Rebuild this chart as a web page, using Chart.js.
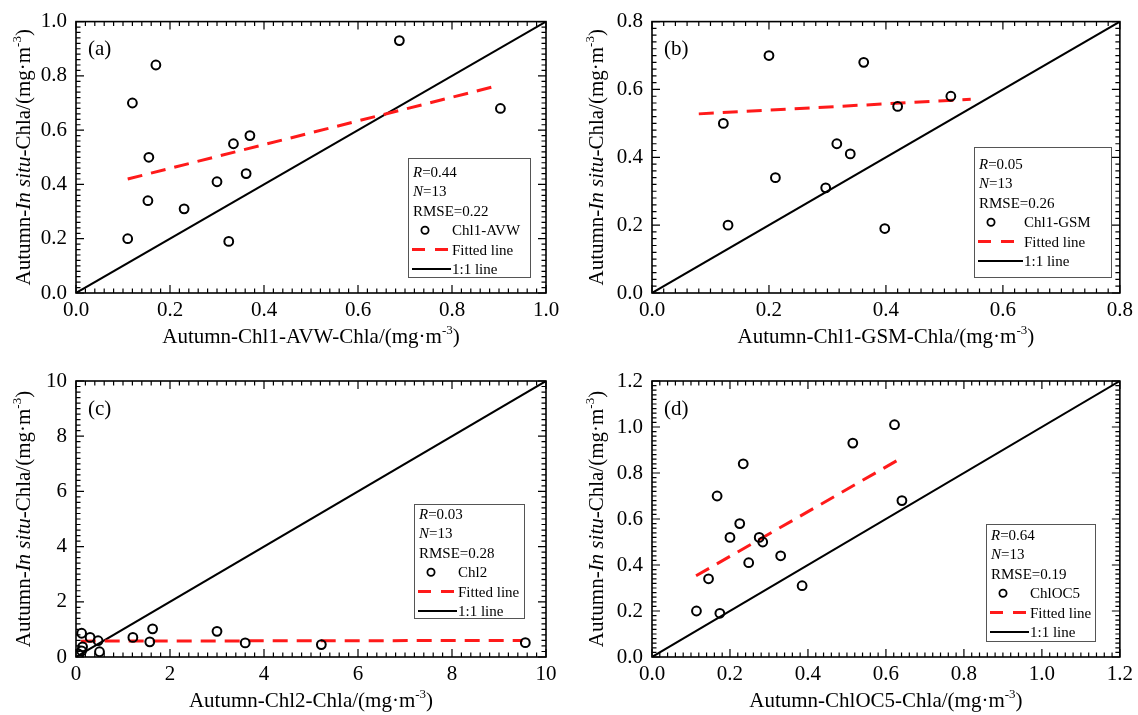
<!DOCTYPE html>
<html><head><meta charset="utf-8">
<script src="https://cdn.jsdelivr.net/npm/chart.js@4.4.1/dist/chart.umd.min.js"></script>
<style>
html,body{margin:0;padding:0;background:#fff;width:1138px;height:715px;overflow:hidden}
canvas{position:absolute}
</style></head><body>
<canvas id="ca" style="left:0;top:0" width="569" height="362"></canvas>
<canvas id="cb" style="left:569px;top:0" width="569" height="362"></canvas>
<canvas id="cc" style="left:0;top:340px" width="569" height="375"></canvas>
<canvas id="cd" style="left:569px;top:340px" width="569" height="375"></canvas>
<script>
const FONT = "'Liberation Serif', 'Times New Roman', serif";

// ---- Panel (a) Chl1-AVW ----
const aX = [0.11, 0.12, 0.17, 0.155, 0.153, 0.23, 0.30, 0.325, 0.335, 0.37, 0.362, 0.688, 0.903];
const aY = [0.20, 0.70, 0.84, 0.50, 0.34, 0.31, 0.41, 0.19, 0.55, 0.58, 0.44, 0.93, 0.68];
const aFitX = [0.11, 0.90];
const aFitY = [0.42, 0.765];
const aTicks = [0, 0.2, 0.4, 0.6, 0.8, 1.0];

// ---- Panel (b) Chl1-GSM ----
const bX = [0.20, 0.362, 0.122, 0.511, 0.42, 0.316, 0.339, 0.211, 0.297, 0.13, 0.398];
const bY = [0.70, 0.68, 0.50, 0.58, 0.55, 0.44, 0.41, 0.34, 0.31, 0.20, 0.19];
const bFitX = [0.08, 0.545];
const bFitY = [0.528, 0.571];
const bTicks = [0, 0.2, 0.4, 0.6, 0.8];

// ---- Panel (c) Chl2 ----
const cX = [0.06, 0.12, 0.30, 0.47, 0.14, 0.12, 0.50, 1.21, 1.57, 1.63, 3.0, 3.6, 5.22, 9.56];
const cY = [0.10, 0.86, 0.71, 0.59, 0.37, 0.22, 0.19, 0.71, 0.55, 1.02, 0.93, 0.51, 0.45, 0.52];
const cFitX = [0.1, 9.5];
const cFitY = [0.575, 0.60];
const cTicks = [0, 2, 4, 6, 8, 10];

// ---- Panel (d) ChlOC5 ----
const dX = [0.622, 0.515, 0.234, 0.167, 0.641, 0.225, 0.200, 0.275, 0.284, 0.330, 0.248, 0.145, 0.385, 0.114, 0.174];
const dY = [1.01, 0.93, 0.84, 0.70, 0.68, 0.58, 0.52, 0.52, 0.50, 0.44, 0.41, 0.34, 0.31, 0.20, 0.19];
const dFitX = [0.113, 0.646];
const dFitY = [0.353, 0.871];
const dTicks = [0, 0.2, 0.4, 0.6, 0.8, 1.0, 1.2];

// ---- Texts ----
const panelLabels = ['(a)', '(b)', '(c)', '(d)'];
const seriesNames = ['Chl1-AVW', 'Chl1-GSM', 'Chl2', 'ChlOC5'];
const rVals = ['0.44', '0.05', '0.03', '0.64'];
const nVals = ['13', '13', '13', '13'];
const rmseVals = ['0.22', '0.26', '0.28', '0.19'];
const tickDecimals = [1, 1, 0, 1];

function pts(xs, ys) { return xs.map((x, i) => ({ x: x, y: ys[i] })); }

function rich(ctx, segs, x, y, size, align) {
  let total = 0;
  const parts = segs.map(s => {
    const fs = s.sup ? size * 0.62 : size;
    const font = (s.i ? 'italic ' : '') + fs + 'px ' + FONT;
    ctx.font = font;
    const w = ctx.measureText(s.t).width;
    total += w;
    return { s: s, font: font, w: w };
  });
  let cx = align === 'center' ? x - total / 2 : x;
  ctx.textAlign = 'left';
  ctx.textBaseline = 'alphabetic';
  parts.forEach(p => {
    ctx.font = p.font;
    ctx.fillText(p.s.t, cx, p.s.sup ? y - size * 0.42 : y);
    cx += p.w;
  });
}

const layouts = [
  { id: 'ca', w: 569, h: 362, xh: 47, area: { l: 76, r: 546, t: 15, b: 293 }, ytx: 23,
    box: { x: 408, y: 158, w: 122, h: 119, r0: 172, tx: 44 } },
  { id: 'cb', w: 569, h: 362, xh: 47, area: { l: 83, r: 551, t: 15, b: 293 }, ytx: 27,
    box: { x: 405, y: 147, w: 137, h: 130, r0: 164, tx: 50 } },
  { id: 'cc', w: 569, h: 375, xh: 58, area: { l: 76, r: 546, t: 41, b: 317 }, ytx: 23,
    box: { x: 414, y: 164, w: 110, h: 114, r0: 174, tx: 44 } },
  { id: 'cd', w: 569, h: 375, xh: 58, area: { l: 83, r: 551, t: 41, b: 317 }, ytx: 27,
    box: { x: 417, y: 184, w: 109, h: 117, r0: 195, tx: 44 } }
];
const allX = [aX, bX, cX, dX], allY = [aY, bY, cY, dY];
const allFx = [aFitX, bFitX, cFitX, dFitX], allFy = [aFitY, bFitY, cFitY, dFitY];
const allTicks = [aTicks, bTicks, cTicks, dTicks];

function makeDeco(k) {
  const L = layouts[k], ticks = allTicks[k];
  return {
    id: 'deco' + k,
    afterDraw(chart) {
      const ctx = chart.ctx, a = chart.chartArea;
      const sx = chart.scales.x, sy = chart.scales.y;
      ctx.save();
      ctx.strokeStyle = '#000';
      ctx.fillStyle = '#000';
      // frame
      ctx.lineWidth = 1.6;
      ctx.strokeRect(a.left, a.top, a.right - a.left, a.bottom - a.top);
      // ticks
      ctx.lineWidth = 1.2;
      const step = ticks[1] - ticks[0], minor = step / 10;
      const n = Math.round((ticks[ticks.length - 1] - ticks[0]) / minor);
      for (let i = 0; i <= n; i++) {
        const v = ticks[0] + i * minor;
        const len = (i % 10 === 0) ? 8 : 4.5;
        const px = sx.getPixelForValue(v), py = sy.getPixelForValue(v);
        ctx.beginPath();
        ctx.moveTo(px, a.bottom); ctx.lineTo(px, a.bottom - len);
        ctx.moveTo(px, a.top); ctx.lineTo(px, a.top + len);
        ctx.moveTo(a.left, py); ctx.lineTo(a.left + len, py);
        ctx.moveTo(a.right, py); ctx.lineTo(a.right - len, py);
        ctx.stroke();
      }
      // axis titles
      const TS = 21;
      rich(ctx, [{ t: 'Autumn-' + seriesNames[k] + '-Chla/(mg·m' }, { t: '-3', sup: 1 }, { t: ')' }],
        (a.left + a.right) / 2, a.bottom + 43 + TS * 0.33, TS, 'center');
      ctx.save();
      ctx.translate(L.ytx, (a.top + a.bottom) / 2);
      ctx.rotate(-Math.PI / 2);
      rich(ctx, [{ t: 'Autumn-' }, { t: 'In situ', i: 1 }, { t: '-Chla/(mg·m' }, { t: '-3', sup: 1 }, { t: ')' }],
        0, TS * 0.33, TS, 'center');
      ctx.restore();
      // panel label
      ctx.font = '21px ' + FONT;
      ctx.textAlign = 'left';
      ctx.textBaseline = 'middle';
      ctx.fillText(panelLabels[k], a.left + 12, a.top + 28);
      // legend box
      const B = L.box, LS = 15, step2 = 19.4;
      ctx.fillStyle = '#fff';
      ctx.fillRect(B.x, B.y, B.w, B.h);
      ctx.fillStyle = '#000';
      ctx.strokeStyle = '#555';
      ctx.lineWidth = 1;
      ctx.strokeRect(B.x + 0.5, B.y + 0.5, B.w, B.h);
      const base = i => B.r0 + i * step2 + LS * 0.33;
      rich(ctx, [{ t: 'R', i: 1 }, { t: '=' + rVals[k] }], B.x + 5, base(0), LS, 'left');
      rich(ctx, [{ t: 'N', i: 1 }, { t: '=' + nVals[k] }], B.x + 5, base(1), LS, 'left');
      rich(ctx, [{ t: 'RMSE=' + rmseVals[k] }], B.x + 5, base(2), LS, 'left');
      ctx.strokeStyle = '#000';
      ctx.lineWidth = 1.8;
      ctx.beginPath();
      ctx.arc(B.x + 17, B.r0 + 3 * step2, 3.6, 0, Math.PI * 2);
      ctx.stroke();
      rich(ctx, [{ t: seriesNames[k] }], B.x + B.tx, base(3), LS, 'left');
      ctx.strokeStyle = '#ff1a1a';
      ctx.lineWidth = 3;
      ctx.setLineDash([13, 10]);
      ctx.beginPath();
      ctx.moveTo(B.x + 4, B.r0 + 4 * step2);
      ctx.lineTo(B.x + B.tx - 1, B.r0 + 4 * step2);
      ctx.stroke();
      ctx.setLineDash([]);
      rich(ctx, [{ t: 'Fitted line' }], B.x + B.tx, base(4), LS, 'left');
      ctx.strokeStyle = '#000';
      ctx.lineWidth = 2;
      ctx.beginPath();
      ctx.moveTo(B.x + 4, B.r0 + 5 * step2);
      ctx.lineTo(B.x + B.tx - 1, B.r0 + 5 * step2);
      ctx.stroke();
      rich(ctx, [{ t: '1:1 line' }], B.x + B.tx, base(5), LS, 'left');
      ctx.restore();
    }
  };
}

layouts.forEach((L, k) => {
  const ticks = allTicks[k];
  const mx = ticks[ticks.length - 1];
  const dec = tickDecimals[k];
  const A = L.area;
  const bottomPad = L.h - A.b - L.xh;
  new Chart(document.getElementById(L.id), {
    type: 'scatter',
    data: {
      datasets: [
        { data: pts(allX[k], allY[k]), showLine: false, pointStyle: 'circle', pointRadius: 4.4,
          pointBorderWidth: 2, borderColor: '#000', backgroundColor: 'rgba(0,0,0,0)', pointBackgroundColor: 'rgba(0,0,0,0)' },
        { data: pts(allFx[k], allFy[k]), showLine: true, pointRadius: 0, borderColor: '#ff1a1a',
          borderWidth: 3, borderDash: [15, 9] },
        { data: [{ x: ticks[0], y: ticks[0] }, { x: mx, y: mx }], showLine: true, pointRadius: 0,
          borderColor: '#000', borderWidth: 2 }
      ]
    },
    options: {
      responsive: false, animation: false, devicePixelRatio: 1,
      layout: { padding: { left: 0, top: A.t, right: L.w - A.r, bottom: bottomPad } },
      plugins: { legend: { display: false }, tooltip: { enabled: false } },
      scales: {
        x: {
          type: 'linear', min: ticks[0], max: mx,
          afterFit: s => { s.height = L.xh; },
          afterBuildTicks: s => { s.ticks = ticks.map(v => ({ value: v })); },
          grid: { display: false, drawTicks: false }, border: { display: false },
          ticks: { color: '#000', padding: 5, font: { family: FONT, size: 21 },
                   maxRotation: 0, callback: v => Number(v).toFixed(dec) }
        },
        y: {
          type: 'linear', min: ticks[0], max: mx,
          afterFit: s => { s.width = A.l; },
          afterBuildTicks: s => { s.ticks = ticks.map(v => ({ value: v })); },
          grid: { display: false, drawTicks: false }, border: { display: false },
          ticks: { color: '#000', padding: 9, font: { family: FONT, size: 21 },
                   callback: v => Number(v).toFixed(dec) }
        }
      }
    },
    plugins: [makeDeco(k)]
  });
});
</script>
</body></html>
